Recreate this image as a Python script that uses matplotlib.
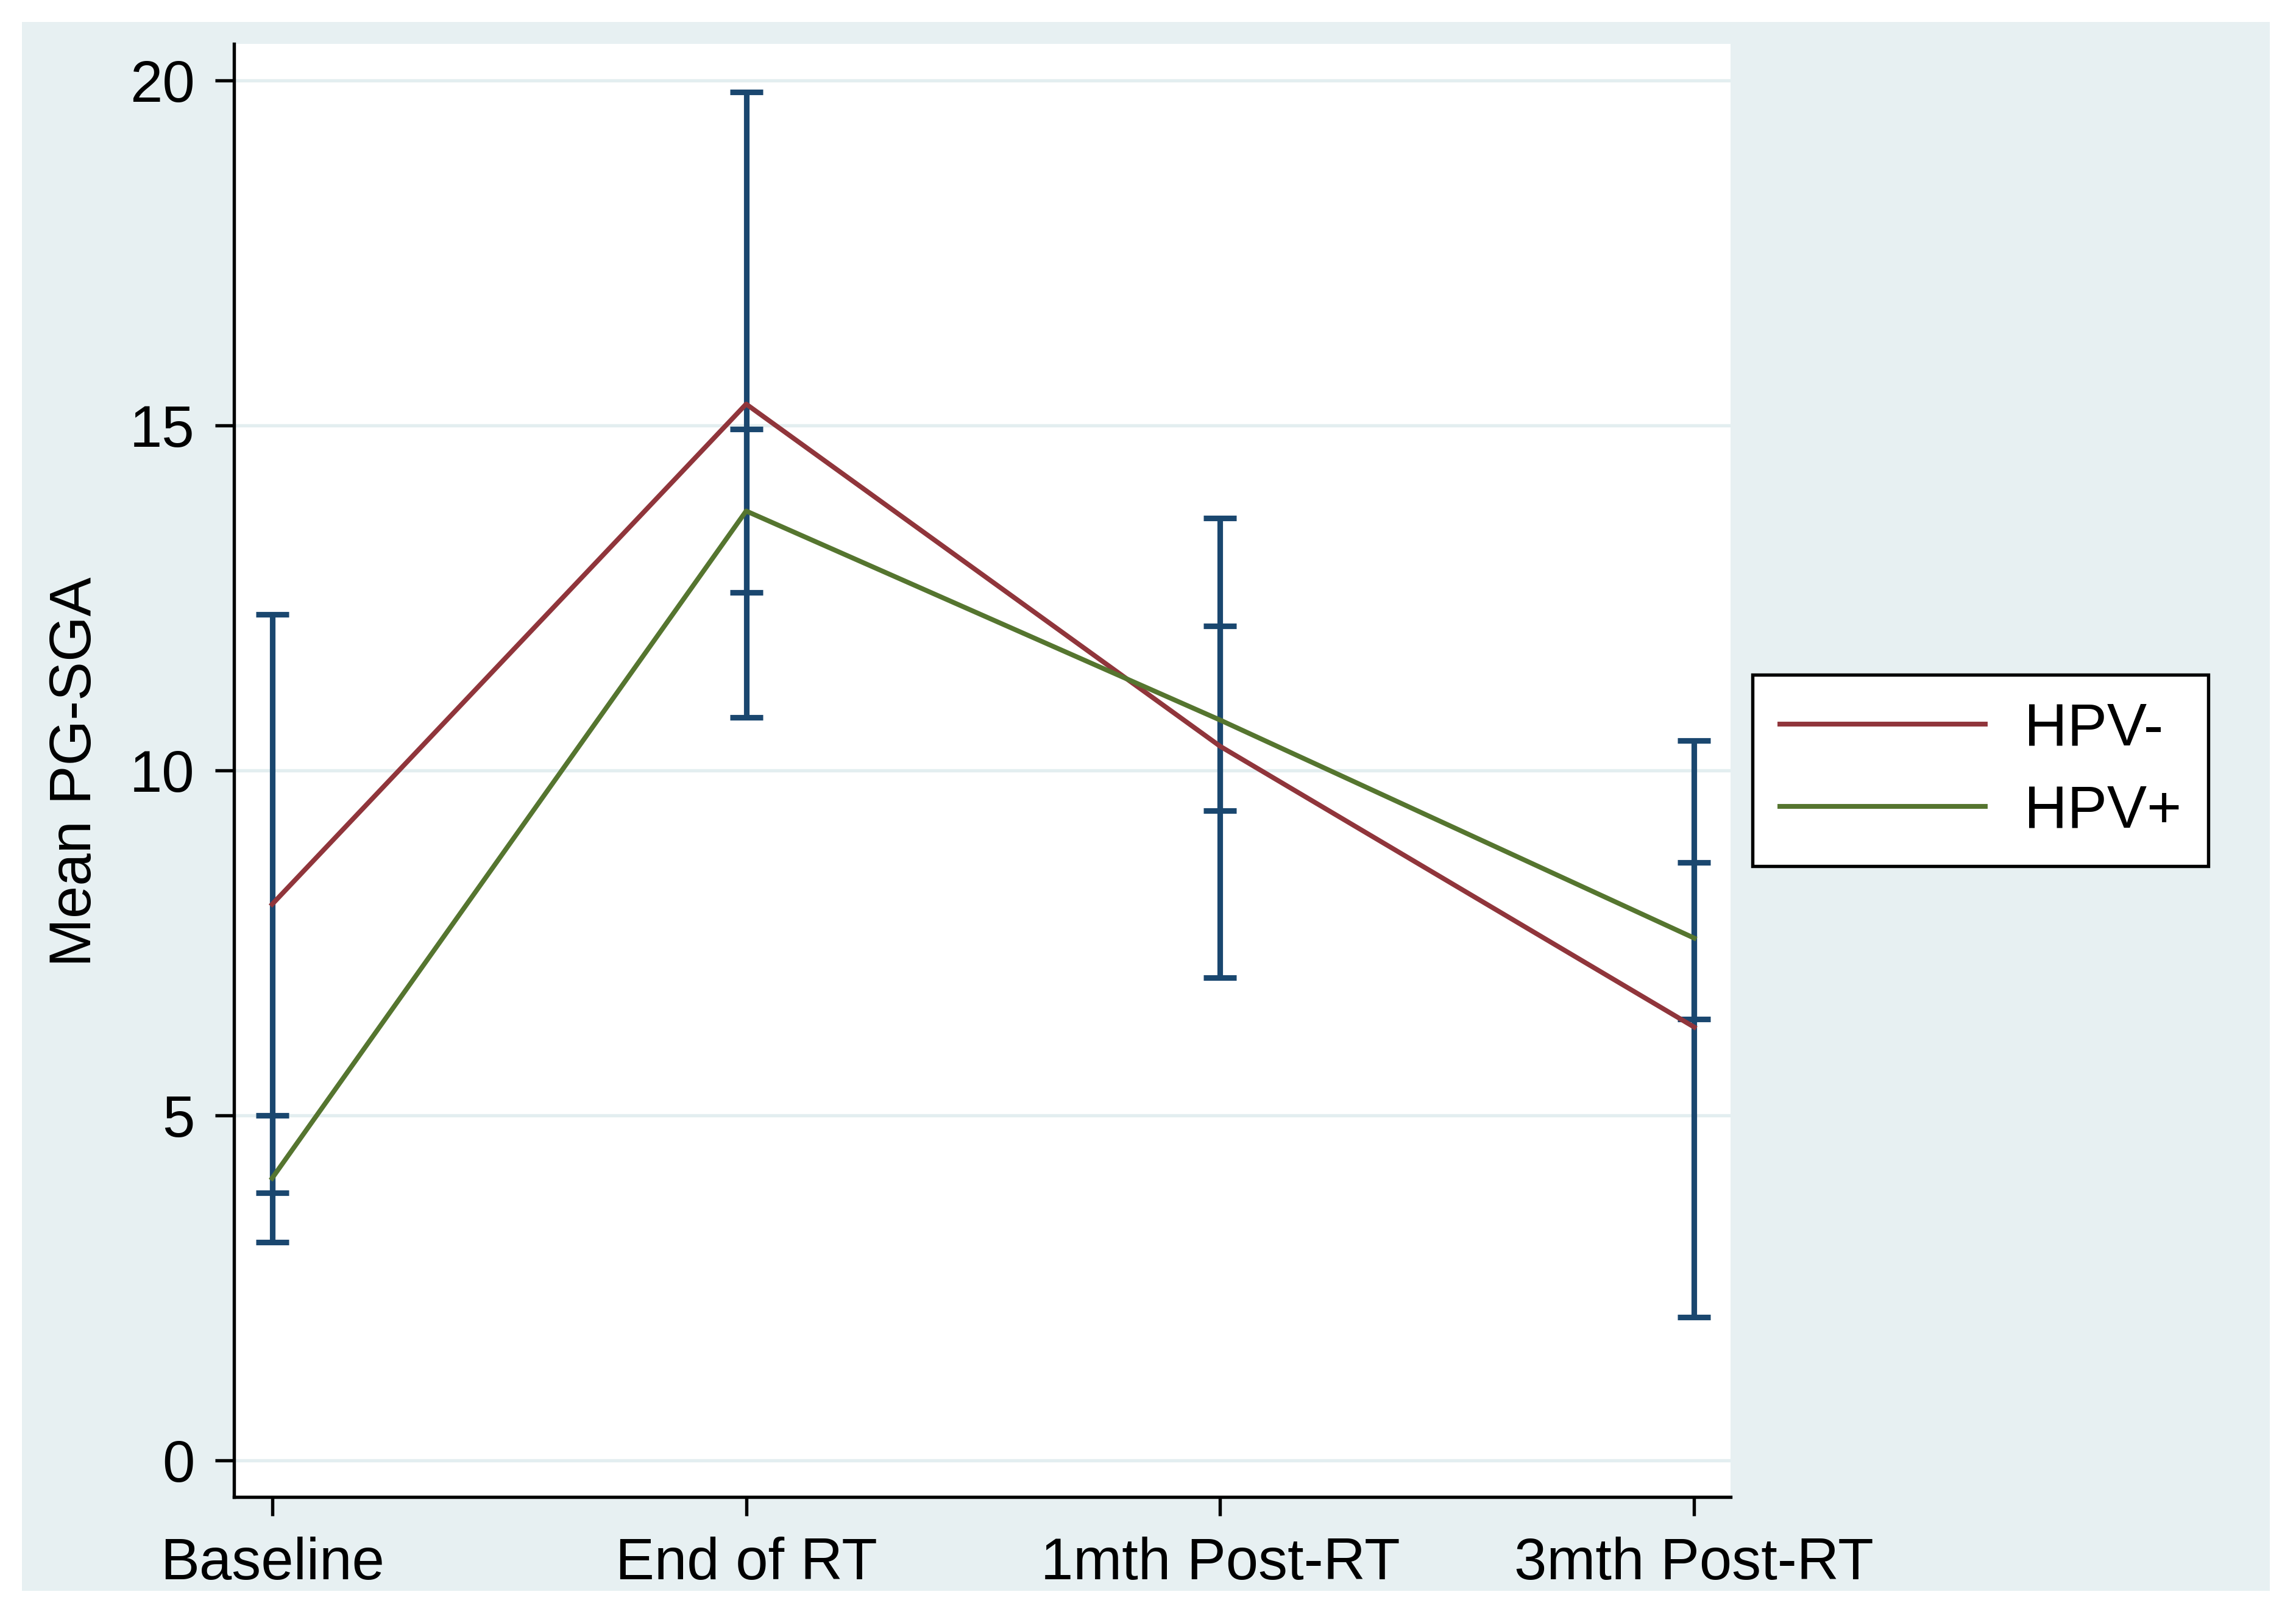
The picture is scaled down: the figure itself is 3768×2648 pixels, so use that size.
import matplotlib
matplotlib.use("Agg")
import matplotlib.pyplot as plt
from matplotlib.patches import Rectangle
import numpy as np

categories = ["Baseline", "End of RT", "1mth Post-RT", "3mth Post-RT"]
hpv_neg_mean = [8.06, 15.31, 10.35, 6.28]
hpv_neg_lo = [3.88, 10.77, 7.00, 2.08]
hpv_neg_hi = [12.26, 19.83, 13.66, 10.43]
hpv_pos_mean = [4.09, 13.76, 10.73, 7.57]
hpv_pos_lo = [3.16, 12.58, 9.42, 6.40]
hpv_pos_hi = [5.00, 14.95, 12.09, 8.67]
y_ticks = [0, 5, 10, 15, 20]
series_labels = ["HPV-", "HPV+"]

BG = "#e7f0f2"
NAVY = "#1a476f"
RED = "#90353b"
GREEN = "#55752f"
FS = 23

plt.rcParams['font.family'] = ['Liberation Sans', 'DejaVu Sans']

fig = plt.figure(figsize=(3768/300, 2648/300), dpi=300, facecolor="white")
bg = Rectangle((0.0096, 0.0145), 0.9885-0.0096, 0.9864-0.0145,
               transform=fig.transFigure, facecolor=BG, edgecolor="none", zorder=-10)
fig.add_artist(bg)

ax = fig.add_axes([0.102, 0.0725, 0.7538-0.102, 0.9728-0.0725])
ax.set_zorder(1)
ax.set_facecolor("white")
x = np.arange(len(categories))

for m, lo, hi in [(hpv_neg_mean, hpv_neg_lo, hpv_neg_hi), (hpv_pos_mean, hpv_pos_lo, hpv_pos_hi)]:
    m = np.array(m); lo = np.array(lo); hi = np.array(hi)
    ax.errorbar(x, m, yerr=[m - lo, hi - m], fmt="none", ecolor=NAVY,
                elinewidth=2.2, capsize=6.4, capthick=2.2, zorder=3)

ax.plot(x, hpv_neg_mean, color=RED, lw=1.9, label=series_labels[0], zorder=4)
ax.plot(x, hpv_pos_mean, color=GREEN, lw=1.9, label=series_labels[1], zorder=4)

ax.set_xlim(-0.08, 3.077)
ax.set_ylim(-0.53, 20.53)
ax.set_yticks(y_ticks)
ax.set_yticklabels([str(v) for v in y_ticks])
ax.set_xticks(x)
ax.set_xticklabels(categories)
for v in y_ticks:
    ax.axhline(v, color="#e3eef0", lw=1.3, zorder=1)

for s in ["top", "right"]:
    ax.spines[s].set_visible(False)
for s in ["left", "bottom"]:
    ax.spines[s].set_linewidth(1.3)
    ax.spines[s].set_color("black")
ax.tick_params(axis="both", direction="out", length=7.5, width=1.3, labelsize=FS, pad=8, colors="black")

fig.text(0.033, 0.522, "Mean PG-SGA", rotation=90, ha="center", va="center", fontsize=FS)

leg = ax.legend(loc="center left", bbox_to_anchor=(0.7634, 0.5226), bbox_transform=fig.transFigure,
                fontsize=23.5, frameon=True, fancybox=False, handlelength=3.45, handletextpad=0.65,
                labelspacing=0.45, borderpad=0.45, borderaxespad=0)
leg.get_frame().set_edgecolor("black")
leg.get_frame().set_linewidth(1.3)
leg.get_frame().set_facecolor("white")
leg.get_frame().set_alpha(1)

fig.savefig("out.png", dpi=300, facecolor="white")
